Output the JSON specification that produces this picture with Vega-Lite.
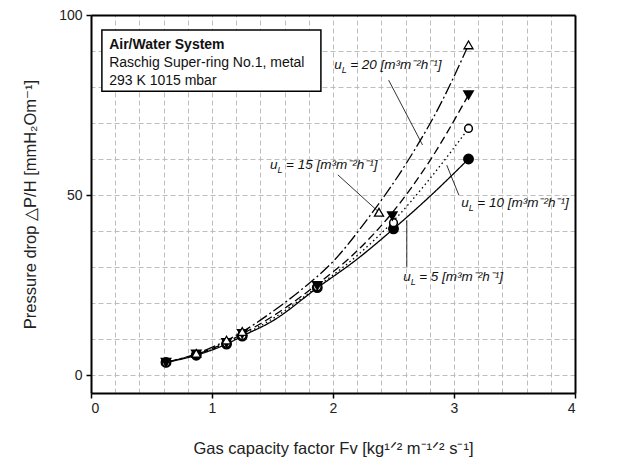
{
  "$schema": "https://vega.github.io/schema/vega-lite/v6.json",
  "width": 484,
  "height": 378,
  "autosize": {"type": "none"},
  "padding": {"left": 91, "top": 15, "right": 49, "bottom": 65},
  "background": "white",
  "config": {
    "view": {"stroke": null},
    "font": "Liberation Sans",
    "axis": {
      "labelFont": "Liberation Sans",
      "labelFontSize": 14,
      "labelColor": "#222222",
      "titleFont": "Liberation Sans",
      "titleFontSize": 16.5,
      "titleFontWeight": "normal",
      "titleColor": "#222222",
      "domainColor": "#000000",
      "domainWidth": 2,
      "tickColor": "#000000",
      "tickWidth": 1.5
    }
  },
  "datasets": {
    "curves": [
      {"s": "5", "x": 0.62, "y": 3.5}, {"s": "5", "x": 0.87, "y": 5.5}, {"s": "5", "x": 1.12, "y": 8.6}, {"s": "5", "x": 1.25, "y": 10.8}, {"s": "5", "x": 1.5, "y": 15}, {"s": "5", "x": 1.87, "y": 24.2}, {"s": "5", "x": 2.2, "y": 32.2}, {"s": "5", "x": 2.5, "y": 40.6}, {"s": "5", "x": 2.8, "y": 49.6}, {"s": "5", "x": 3.12, "y": 60},
      {"s": "10", "x": 0.62, "y": 3.5}, {"s": "10", "x": 0.87, "y": 5.6}, {"s": "10", "x": 1.12, "y": 8.8}, {"s": "10", "x": 1.25, "y": 11}, {"s": "10", "x": 1.5, "y": 15.6}, {"s": "10", "x": 1.87, "y": 24.5}, {"s": "10", "x": 2.2, "y": 33.2}, {"s": "10", "x": 2.5, "y": 42.8}, {"s": "10", "x": 2.8, "y": 54.5}, {"s": "10", "x": 3.12, "y": 68.5},
      {"s": "15", "x": 0.62, "y": 3.5}, {"s": "15", "x": 0.87, "y": 5.7}, {"s": "15", "x": 1.12, "y": 9.1}, {"s": "15", "x": 1.25, "y": 11.4}, {"s": "15", "x": 1.5, "y": 16.3}, {"s": "15", "x": 1.87, "y": 25.2}, {"s": "15", "x": 2.2, "y": 34.5}, {"s": "15", "x": 2.5, "y": 45.5}, {"s": "15", "x": 2.8, "y": 59.5}, {"s": "15", "x": 3.12, "y": 77.8},
      {"s": "20", "x": 0.62, "y": 3.5}, {"s": "20", "x": 0.87, "y": 5.9}, {"s": "20", "x": 1.12, "y": 9.6}, {"s": "20", "x": 1.25, "y": 12}, {"s": "20", "x": 1.5, "y": 17.6}, {"s": "20", "x": 1.75, "y": 24}, {"s": "20", "x": 2.0, "y": 31.5}, {"s": "20", "x": 2.3, "y": 44}, {"s": "20", "x": 2.6, "y": 58.5}, {"s": "20", "x": 2.9, "y": 76}, {"s": "20", "x": 3.12, "y": 91.7}
    ],
    "points": [
      {"s": "5", "x": 0.62, "y": 3.5}, {"s": "5", "x": 0.87, "y": 5.5}, {"s": "5", "x": 1.12, "y": 8.6}, {"s": "5", "x": 1.25, "y": 10.8}, {"s": "5", "x": 1.87, "y": 24.3}, {"s": "5", "x": 2.5, "y": 40.6}, {"s": "5", "x": 3.12, "y": 60},
      {"s": "10", "x": 0.62, "y": 3.5}, {"s": "10", "x": 0.87, "y": 5.6}, {"s": "10", "x": 1.12, "y": 8.8}, {"s": "10", "x": 1.25, "y": 11}, {"s": "10", "x": 1.87, "y": 24.5}, {"s": "10", "x": 2.5, "y": 42.3}, {"s": "10", "x": 3.12, "y": 68.5},
      {"s": "15", "x": 0.62, "y": 3.5}, {"s": "15", "x": 0.87, "y": 5.8}, {"s": "15", "x": 1.12, "y": 9}, {"s": "15", "x": 1.25, "y": 11.5}, {"s": "15", "x": 1.87, "y": 24.8}, {"s": "15", "x": 2.49, "y": 44.2}, {"s": "15", "x": 3.12, "y": 77.8},
      {"s": "20", "x": 0.87, "y": 6}, {"s": "20", "x": 1.12, "y": 9.7}, {"s": "20", "x": 1.25, "y": 12.1}, {"s": "20", "x": 2.38, "y": 45.2}, {"s": "20", "x": 3.12, "y": 91.7}
    ],
    "labels": [
      {"s": "20", "x": 2.01, "y": 86.1, "rest": "= 20 [m³m⁻²h⁻¹]"},
      {"s": "15", "x": 1.48, "y": 58.3, "rest": "= 15 [m³m⁻²h⁻¹]"},
      {"s": "10", "x": 3.06, "y": 47.7, "rest": "= 10 [m³m⁻²h⁻¹]"},
      {"s": "5", "x": 2.58, "y": 27.3, "rest": "= 5 [m³m⁻²h⁻¹]"}
    ],
    "leaders": [
      {"s": "20", "x": 2.46, "y": 81.9, "x2": 2.74, "y2": 63.9},
      {"s": "15", "x": 2.04, "y": 55.6, "x2": 2.42, "y2": 44},
      {"s": "10", "x": 2.94, "y": 58.3, "x2": 3.04, "y2": 50},
      {"s": "5", "x": 2.61, "y": 43, "x2": 2.61, "y2": 30}
    ],
    "box": [{"x": 0.09, "x2": 1.9, "y": 78.8, "y2": 95.8}],
    "boxtext": [
      {"x": 0.15, "y": 91.7, "w": "bold", "t": "Air/Water System"},
      {"x": 0.15, "y": 86.7, "w": "normal", "t": "Raschig Super-ring No.1, metal"},
      {"x": 0.15, "y": 81.8, "w": "normal", "t": "293 K  1015 mbar"}
    ]
  },
  "layer": [
    {
      "data": {"name": "box"},
      "mark": {"type": "rect", "fill": "white", "stroke": "black", "strokeWidth": 1.5},
      "encoding": {
        "x": {"field": "x", "type": "quantitative", "scale": {"domain": [0, 4], "nice": false},
              "axis": {"orient": "top", "values": [0,0.2,0.4,0.6,0.8,1,1.2,1.4,1.6,1.8,2,2.2,2.4,2.6,2.8,3,3.2,3.4,3.6,3.8,4], "grid": true, "gridColor": "#bdbdbd", "gridDash": [5, 3], "gridWidth": 1, "labels": false, "ticks": false, "domain": true, "title": null}},
        "x2": {"field": "x2"},
        "y": {"field": "y", "type": "quantitative", "scale": {"domain": [-5, 100], "nice": false},
              "axis": {"orient": "right", "values": [0,10,20,30,40,50,60,70,80,90,100], "grid": true, "gridColor": "#bdbdbd", "gridDash": [5, 3], "gridWidth": 1, "labels": false, "ticks": false, "domain": true, "title": null}},
        "y2": {"field": "y2"}
      }
    },
    {
      "data": {"name": "curves"},
      "mark": {"type": "line", "interpolate": "monotone", "color": "black", "strokeWidth": 1.3},
      "encoding": {
        "x": {"field": "x", "type": "quantitative", "scale": {"domain": [0, 4], "nice": false},
              "axis": {"orient": "bottom", "values": [0, 1, 2, 3, 4], "format": "d", "grid": false, "tickSize": 5, "labelPadding": 3, "titlePadding": 25, "title": "Gas capacity factor  Fv [kg¹ᐟ² m⁻¹ᐟ² s⁻¹]"}},
        "y": {"field": "y", "type": "quantitative", "scale": {"domain": [-5, 100], "nice": false},
              "axis": {"orient": "left", "values": [0, 50, 100], "format": "d", "grid": false, "tickSize": 5, "labelPadding": 4, "titlePadding": 20, "title": "Pressure drop △P/H [mmH₂Om⁻¹]"}},
        "detail": {"field": "s"},
        "strokeDash": {"field": "s", "type": "nominal", "scale": {"domain": ["5", "10", "15", "20"], "range": [[1, 0], [1.5, 3], [8, 4], [12, 3, 2, 3]]}, "legend": null}
      }
    },
    {
      "data": {"name": "leaders"},
      "mark": {"type": "rule", "color": "black", "strokeWidth": 0.8},
      "encoding": {
        "x": {"field": "x", "type": "quantitative", "scale": {"domain": [0, 4], "nice": false}, "axis": null},
        "x2": {"field": "x2"},
        "y": {"field": "y", "type": "quantitative", "scale": {"domain": [-5, 100], "nice": false}, "axis": null},
        "y2": {"field": "y2"}
      }
    },
    {
      "data": {"name": "points"},
      "transform": [{"filter": "datum.s == '5'"}],
      "mark": {"type": "point", "shape": "circle", "filled": true, "fill": "black", "stroke": "black", "size": 80, "opacity": 1},
      "encoding": {
        "x": {"field": "x", "type": "quantitative", "scale": {"domain": [0, 4], "nice": false}, "axis": null},
        "y": {"field": "y", "type": "quantitative", "scale": {"domain": [-5, 100], "nice": false}, "axis": null}
      }
    },
    {
      "data": {"name": "points"},
      "transform": [{"filter": "datum.s == '10'"}],
      "mark": {"type": "point", "shape": "circle", "filled": false, "fill": "white", "stroke": "black", "strokeWidth": 1.5, "size": 60, "opacity": 1, "fillOpacity": 1},
      "encoding": {
        "x": {"field": "x", "type": "quantitative", "scale": {"domain": [0, 4], "nice": false}, "axis": null},
        "y": {"field": "y", "type": "quantitative", "scale": {"domain": [-5, 100], "nice": false}, "axis": null}
      }
    },
    {
      "data": {"name": "points"},
      "transform": [{"filter": "datum.s == '15'"}],
      "mark": {"type": "point", "shape": "triangle-down", "filled": true, "fill": "black", "stroke": "black", "size": 70, "opacity": 1},
      "encoding": {
        "x": {"field": "x", "type": "quantitative", "scale": {"domain": [0, 4], "nice": false}, "axis": null},
        "y": {"field": "y", "type": "quantitative", "scale": {"domain": [-5, 100], "nice": false}, "axis": null}
      }
    },
    {
      "data": {"name": "points"},
      "transform": [{"filter": "datum.s == '20'"}],
      "mark": {"type": "point", "shape": "triangle-up", "filled": false, "fill": "white", "stroke": "black", "strokeWidth": 1.3, "size": 80, "opacity": 1, "fillOpacity": 1},
      "encoding": {
        "x": {"field": "x", "type": "quantitative", "scale": {"domain": [0, 4], "nice": false}, "axis": null},
        "y": {"field": "y", "type": "quantitative", "scale": {"domain": [-5, 100], "nice": false}, "axis": null}
      }
    },
    {
      "data": {"name": "labels"},
      "mark": {"type": "text", "text": "u", "align": "left", "baseline": "middle", "fontStyle": "italic", "fontSize": 13.5, "color": "#111111"},
      "encoding": {
        "x": {"field": "x", "type": "quantitative", "scale": {"domain": [0, 4], "nice": false}, "axis": null},
        "y": {"field": "y", "type": "quantitative", "scale": {"domain": [-5, 100], "nice": false}, "axis": null}
      }
    },
    {
      "data": {"name": "labels"},
      "mark": {"type": "text", "text": "L", "align": "left", "baseline": "middle", "fontStyle": "italic", "fontSize": 9, "dx": 7.5, "dy": 5, "color": "#111111"},
      "encoding": {
        "x": {"field": "x", "type": "quantitative", "scale": {"domain": [0, 4], "nice": false}, "axis": null},
        "y": {"field": "y", "type": "quantitative", "scale": {"domain": [-5, 100], "nice": false}, "axis": null}
      }
    },
    {
      "data": {"name": "labels"},
      "mark": {"type": "text", "align": "left", "baseline": "middle", "fontStyle": "italic", "fontSize": 13.5, "dx": 16, "color": "#111111"},
      "encoding": {
        "x": {"field": "x", "type": "quantitative", "scale": {"domain": [0, 4], "nice": false}, "axis": null},
        "y": {"field": "y", "type": "quantitative", "scale": {"domain": [-5, 100], "nice": false}, "axis": null},
        "text": {"field": "rest"}
      }
    },
    {
      "data": {"name": "boxtext"},
      "transform": [{"filter": "datum.w == 'bold'"}],
      "mark": {"type": "text", "align": "left", "baseline": "middle", "fontWeight": "bold", "fontSize": 14, "color": "#111111"},
      "encoding": {
        "x": {"field": "x", "type": "quantitative", "scale": {"domain": [0, 4], "nice": false}, "axis": null},
        "y": {"field": "y", "type": "quantitative", "scale": {"domain": [-5, 100], "nice": false}, "axis": null},
        "text": {"field": "t"}
      }
    },
    {
      "data": {"name": "boxtext"},
      "transform": [{"filter": "datum.w == 'normal'"}],
      "mark": {"type": "text", "align": "left", "baseline": "middle", "fontSize": 14, "color": "#111111"},
      "encoding": {
        "x": {"field": "x", "type": "quantitative", "scale": {"domain": [0, 4], "nice": false}, "axis": null},
        "y": {"field": "y", "type": "quantitative", "scale": {"domain": [-5, 100], "nice": false}, "axis": null},
        "text": {"field": "t"}
      }
    }
  ],
  "resolve": {"axis": {"x": "independent", "y": "independent"}}
}
